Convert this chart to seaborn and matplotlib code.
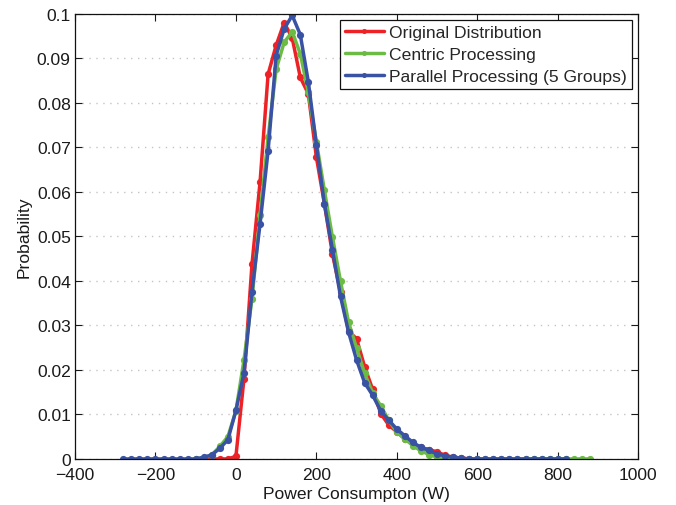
import numpy as np
import pandas as pd
import matplotlib
matplotlib.use("Agg")
import matplotlib.pyplot as plt
import seaborn as sns

# Histogram bins (W), 20 W apart
x_original = np.arange(-80, 620, 20)
x_centric = np.arange(-100, 900, 20)
x_parallel = np.arange(-280, 840, 20)

p_original = [0, 0, 0, 0, 0.0006, 0.018, 0.0438, 0.0622, 0.0864, 0.0929,
              0.098, 0.0945, 0.0857, 0.082, 0.0678, 0.0573, 0.046, 0.0375,
              0.0287, 0.027, 0.0207, 0.0156, 0.0102, 0.0076, 0.0061, 0.0045,
              0.0034, 0.0026, 0.0021, 0.0016, 0.0008, 0.0004, 0.0002, 0, 0]

p_centric = [0, 0.0002, 0.0009, 0.0028, 0.005, 0.0108, 0.0222, 0.036, 0.0548,
             0.0722, 0.0875, 0.0936, 0.0959, 0.091, 0.0823, 0.0712, 0.0603,
             0.0498, 0.0399, 0.0307, 0.0249, 0.0192, 0.0148, 0.0119, 0.0087,
             0.006, 0.0045, 0.003, 0.0018, 0.001, 0.0004, 0.0001,
             0, 0, 0, 0, 0, 0, 0, 0, 0, 0, 0, 0, 0, 0, 0, 0, 0, 0]

p_parallel = [0, 0, 0, 0, 0, 0, 0, 0, 0, 0,
              0.0004, 0.0009, 0.0024, 0.0043, 0.0109, 0.0193, 0.0376, 0.0528,
              0.0692, 0.0906, 0.0966, 0.0996, 0.0953, 0.0847, 0.0706, 0.0573,
              0.047, 0.0365, 0.0285, 0.0222, 0.0171, 0.0143, 0.0108, 0.0087,
              0.0067, 0.0052, 0.0037, 0.0026, 0.0019, 0.0011, 0.0007, 0.0004,
              0.0002,
              0, 0, 0, 0, 0, 0, 0, 0, 0, 0, 0, 0, 0]

series_names = ["Original Distribution", "Centric Processing",
                "Parallel Processing (5 Groups)"]
series_colors = ["#ec2227", "#6cbb45", "#3a52a3"]

x_ticks = list(range(-400, 1001, 200))
y_ticks = [round(0.01 * i, 2) for i in range(11)]
y_tick_labels = ["0"] + [f"{v:g}" for v in y_ticks[1:]]

frames = []
for name, xs, ps in zip(series_names,
                        [x_original, x_centric, x_parallel],
                        [p_original, p_centric, p_parallel]):
    frames.append(pd.DataFrame({"power": xs, "prob": ps, "series": name}))
df = pd.concat(frames, ignore_index=True)

sns.set_theme(style="ticks")
plt.rcParams["font.family"] = ["Liberation Sans", "DejaVu Sans"]
plt.rcParams["font.size"] = 12.6

fig = plt.figure(figsize=(6.76, 5.06), dpi=100)
ax = fig.add_axes([0.111, 0.091, 0.833, 0.880])

for name, color in zip(series_names, series_colors):
    sns.lineplot(data=df[df["series"] == name], x="power", y="prob",
                 color=color, linewidth=2.5, marker="o", markersize=5.2,
                 markeredgewidth=0, label=name, ax=ax)

ax.set_xlim(-400, 1000)
ax.set_ylim(0, 0.1)
ax.set_xticks(x_ticks)
ax.set_yticks(y_ticks)
ax.set_yticklabels(y_tick_labels)
ax.yaxis.grid(True, color="#c4c4c4", linestyle=(0, (1, 4)), linewidth=1)
ax.xaxis.grid(False)
ax.tick_params(direction="in", length=5, width=0.8, top=True, right=True,
               labelsize=12.6, colors="#1a1a1a", pad=3)
ax.tick_params(axis="x", pad=5.5)
for side in ["left", "right", "top", "bottom"]:
    ax.spines[side].set_visible(True)
    ax.spines[side].set_color("#111111")
    ax.spines[side].set_linewidth(0.9)

ax.set_xlabel("Power Consumpton (W)", fontsize=12.6, color="#1a1a1a", labelpad=3)
ax.set_ylabel("Probability", fontsize=12.6, color="#1a1a1a", labelpad=4)

leg = ax.legend(loc="upper right", fontsize=12.6, frameon=True, fancybox=False,
                edgecolor="#111111", framealpha=1, handlelength=2.2,
                handletextpad=0.3, labelspacing=0.38, borderpad=0.3,
                borderaxespad=0.35, markerscale=0.7)
leg.get_frame().set_linewidth(0.9)

fig.savefig("out.png", dpi=100)
